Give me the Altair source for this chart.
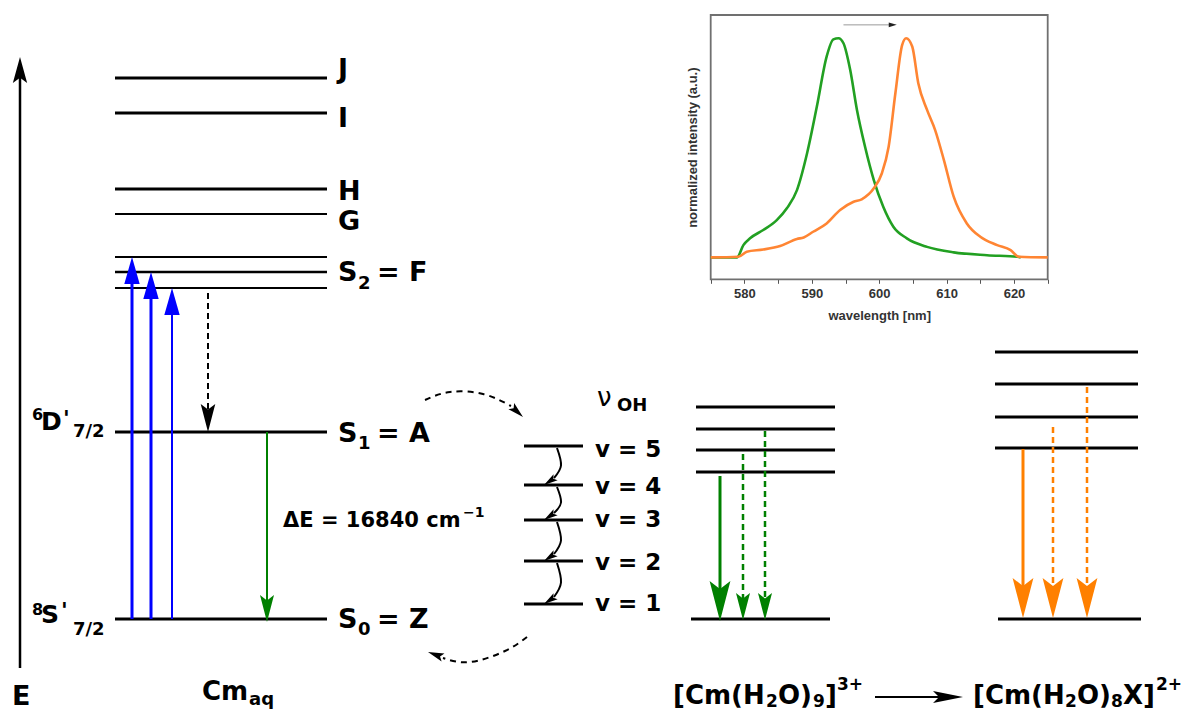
import altair as alt
import pandas as pd

# ---------------- diagram data (positions in reference-image pixels) ----------------
cm_level_names = ["J", "I", "H", "G", "F1", "F2", "F3", "A", "Z"]
cm_level_y = [78, 113, 189, 214, 257, 272, 288, 432, 619]
cm_level_w = [3, 3, 3, 2, 2, 2.5, 2, 3, 3]
cm_level_x = [115, 327]

vib_level_y = [446, 485, 520, 561, 604]          # v = 5 ... v = 1
vib_level_x = [524, 583]

aq_level_y = [407, 429, 450, 472, 619]
aq_level_x1 = [696, 696, 696, 696, 691]
aq_level_x2 = [835, 835, 835, 835, 830]

xc_level_y = [352, 384, 417, 448, 619]
xc_level_x1 = [995, 995, 995, 995, 998]
xc_level_x2 = [1138, 1138, 1138, 1138, 1141]

# straight arrows: start -> tip
arrow_x0 = [20, 132, 151, 172, 208, 267, 720, 743, 765, 1023, 1053, 1087, 875]
arrow_y0 = [668, 619, 619, 619, 293, 432, 476, 454, 431, 449, 427, 387, 697]
arrow_x1 = [20, 132, 151, 172, 208, 267, 720, 743, 765, 1023, 1053, 1087, 963]
arrow_y1 = [57, 257, 272, 288, 432, 622, 621, 620, 620, 618, 618, 618, 697]
arrow_color = ["black", "#0000ff", "#0000ff", "#0000ff", "black", "#008000",
               "#008000", "#008000", "#008000", "#ff8000", "#ff8000", "#ff8000", "black"]
arrow_width = [2.5, 3, 3, 2, 2, 2, 3, 2.5, 2.5, 3, 2.5, 2.5, 2]
arrow_dashed = [False, False, False, False, True, False, False, True, True, False, True, True, False]
arrow_head_len = [26, 27, 27, 27, 28, 27, 40, 27, 27, 40, 40, 40, 30]
arrow_head_plain = [False, True, True, True, False, False, False, False, False, False, False, False, False]

# dashed curved arrows (A -> v=5 and v=1 -> Z)
curve_id = ["top"] * 4 + ["bottom"] * 4
curve_x = [425, 450, 483, 511, 527, 505, 470, 443]
curve_y = [400, 392, 394, 406, 637, 651, 662, 658]
curve_tip_x = [523, 428]
curve_tip_y = [417, 652]
curve_tip_angle = [313, 110]

# text pieces: text, x, baseline y, size
texts = [
    ("J", 338, 78, 27), ("I", 338, 127, 27), ("H", 338, 200, 27), ("G", 338, 230, 27),
    ("S", 338, 281, 27), ("2", 358, 289, 18), ("= F", 377, 281, 27),
    ("S", 338, 442, 27), ("1", 358, 449, 18), ("= A", 377, 442, 27),
    ("S", 338, 628, 27), ("0", 358, 635, 18), ("= Z", 377, 628, 27),
    ("6", 32, 420, 16), ("D", 41, 430, 25), ("'", 63, 426, 22), ("7/2", 73, 437, 18),
    ("8", 32, 615, 16), ("S", 41, 623, 25), ("'", 61, 618, 22), ("7/2", 73, 635, 18),
    ("ΔE = 16840 cm", 283, 527, 21), ("−1", 463, 517, 14),
    ("OH", 617, 411, 18),
    ("v = 5", 595, 457, 23), ("v = 4", 595, 494, 23), ("v = 3", 595, 527, 23),
    ("v = 2", 595, 570, 23), ("v = 1", 595, 611, 23),
    ("E", 12, 705, 27),
    ("Cm", 202, 700, 26), ("aq", 249, 705, 18),
    ("[Cm(H", 673, 704, 26), ("2", 766, 707, 17), ("O)", 778, 704, 26), ("9", 813, 707, 17),
    ("]", 825, 704, 26), ("3+", 837, 690, 17),
    ("[Cm(H", 973, 704, 26), ("2", 1065, 707, 17), ("O)", 1077, 704, 26), ("8", 1111, 707, 17),
    ("X]", 1123, 704, 26), ("2+", 1156, 690, 17),
]
nu_text = [("ν", 597, 406, 26)]

# ---------------- spectrum data ----------------
spec_x_domain = [575, 625]
spec_y_domain = [-0.1, 1.106]
spec_ticks = [575, 580, 585, 590, 595, 600, 605, 610, 615, 620, 625]

green_nm = [575, 578.9, 579.85, 580.84, 582.8, 584.8, 586.3, 587.8, 589.3, 590.75, 592.2,
            593.2, 593.96, 594.7, 595.7, 596.7, 597.9, 599.2, 600.6, 602.1, 604.1, 607.1,
            611.05, 616.0, 620.5, 621]
green_int = [0, 0, 0.056, 0.087, 0.125, 0.17, 0.224, 0.307, 0.475, 0.688, 0.916,
             0.995, 1.0, 0.977, 0.855, 0.673, 0.505, 0.353, 0.231, 0.14, 0.087, 0.048,
             0.023, 0.01, 0.003, 0]

orange_nm = [575, 579.1, 580.35, 582.8, 585.3, 587.8, 588.8, 590.2, 592.2, 594.2,
             596.2, 597.4, 599.2, 600.4, 601.4, 602.4, 603.4, 604.0, 604.9, 605.8, 607.1,
             608.3, 609.6, 611.05, 613.0, 615.0, 617.5, 619.5, 620.7, 625]
orange_int = [0, 0.003, 0.026, 0.036, 0.052, 0.084, 0.091, 0.117, 0.155, 0.216,
              0.254, 0.265, 0.315, 0.384, 0.505, 0.749, 0.969, 1.0, 0.962, 0.795, 0.673,
              0.581, 0.444, 0.277, 0.155, 0.094, 0.056, 0.033, 0.003, 0]

shift_nm = [594.7, 602.6]
shift_level = 1.061

# ---------------- build tables ----------------
W, H = 1178, 705
xs = alt.Scale(domain=[0, 1194], range=[-8, 1186], nice=False, zero=False)
ys = alt.Scale(domain=[0, 713], range=[-8, 705], nice=False, zero=False)


def X(f):
    return alt.X(f"{f}:Q", scale=xs, axis=None)


def Y(f):
    return alt.Y(f"{f}:Q", scale=ys, axis=None)


rows = []
for y, w in zip(cm_level_y, cm_level_w):
    rows.append(dict(x1=cm_level_x[0], x2=cm_level_x[1], y=y, w=w))
for y in vib_level_y:
    rows.append(dict(x1=vib_level_x[0], x2=vib_level_x[1], y=y, w=3))
for y, a, b in zip(aq_level_y, aq_level_x1, aq_level_x2):
    rows.append(dict(x1=a, x2=b, y=y, w=3))
for y, a, b in zip(xc_level_y, xc_level_x1, xc_level_x2):
    rows.append(dict(x1=a, x2=b, y=y, w=3))
df_levels = pd.DataFrame(rows)

UP_NOTCH = "M0,0L0.55,2L0,1.6L-0.55,2Z"
UP_PLAIN = "M0,0L0.57,2L-0.57,2Z"
DOWN_NOTCH = "M0,0L0.52,-2L0,-1.6L-0.52,-2Z"
RIGHT_NOTCH = "M0,0L-2,0.4L-1.6,0L-2,-0.4Z"

shafts, heads = [], []
for i in range(len(arrow_x0)):
    x0, y0, x1, y1 = arrow_x0[i], arrow_y0[i], arrow_x1[i], arrow_y1[i]
    L = arrow_head_len[i]
    dx, dy = x1 - x0, y1 - y0
    n = (dx * dx + dy * dy) ** 0.5
    ex, ey = x1 - 0.7 * L * dx / n, y1 - 0.7 * L * dy / n
    shafts.append(dict(sx0=x0, sy0=y0, sx1=ex, sy1=ey, color=arrow_color[i],
                       width=arrow_width[i], dashed=arrow_dashed[i]))
    if dy < 0:
        shape = UP_PLAIN if arrow_head_plain[i] else UP_NOTCH
    elif dy > 0:
        shape = DOWN_NOTCH
    else:
        shape = RIGHT_NOTCH
    heads.append(dict(x=x1, y=y1, shape=shape, size=L * L, color=arrow_color[i], angle=0))
df_shafts = pd.DataFrame(shafts)

for tx, ty, ang in zip(curve_tip_x, curve_tip_y, curve_tip_angle):
    heads.append(dict(x=tx, y=ty, shape=DOWN_NOTCH, size=16 * 16, color="black", angle=ang))

# vibrational relaxation arcs between neighbouring v levels
arc_rows = []
for j in range(len(vib_level_y) - 1):
    yu, yl = vib_level_y[j], vib_level_y[j + 1]
    d = yl - yu
    pts = [(557, yu + 2), (561, yu + 0.5 * d), (554, yl - 7)]
    for k, (px, py) in enumerate(pts):
        arc_rows.append(dict(cid=f"a{j}", k=k, x=px, y=py))
    heads.append(dict(x=544, y=yl, shape=DOWN_NOTCH, size=14 * 14, color="black", angle=56))
df_arcs = pd.DataFrame(arc_rows)
df_heads = pd.DataFrame(heads)

df_curves = pd.DataFrame(dict(cid=curve_id, k=list(range(4)) * 2, x=curve_x, y=curve_y))
df_text = pd.DataFrame(texts, columns=["t", "x", "y", "s"])
df_nu = pd.DataFrame(nu_text, columns=["t", "x", "y", "s"])

# ---------------- diagram layers ----------------
levels = alt.Chart(df_levels).mark_rule(color="black").encode(
    x=X("x1"), x2="x2:Q", y=Y("y"), strokeWidth=alt.StrokeWidth("w:Q", scale=None))

shaft_enc = dict(x=X("sx0"), x2="sx1:Q", y=Y("sy0"), y2="sy1:Q",
                 color=alt.Color("color:N", scale=None),
                 strokeWidth=alt.StrokeWidth("width:Q", scale=None))
shaft_solid = alt.Chart(df_shafts[~df_shafts.dashed]).mark_rule().encode(**shaft_enc)
shaft_dash = alt.Chart(df_shafts[df_shafts.dashed]).mark_rule(strokeDash=[6, 4]).encode(**shaft_enc)

curve_dash = alt.Chart(df_curves).mark_line(
    interpolate="natural", color="black", strokeWidth=2, strokeDash=[6, 5]).encode(
    x=X("x"), y=Y("y"), detail="cid:N", order="k:Q")
arcs = alt.Chart(df_arcs).mark_line(
    interpolate="natural", color="black", strokeWidth=2).encode(
    x=X("x"), y=Y("y"), detail="cid:N", order="k:Q")

head_layer = alt.Chart(df_heads).mark_point(filled=True, opacity=1, strokeWidth=0).encode(
    x=X("x"), y=Y("y"),
    shape=alt.Shape("shape:N", scale=None),
    size=alt.Size("size:Q", scale=None),
    color=alt.Color("color:N", scale=None),
    angle=alt.Angle("angle:Q", scale=None))

text_layer = alt.Chart(df_text).mark_text(
    align="left", baseline="alphabetic", font="DejaVu Sans", fontWeight="bold", color="black").encode(
    x=X("x"), y=Y("y"), text="t:N", size=alt.Size("s:Q", scale=None))
nu_layer = alt.Chart(df_nu).mark_text(
    align="left", baseline="alphabetic", font="DejaVu Sans", color="black").encode(
    x=X("x"), y=Y("y"), text="t:N", size=alt.Size("s:Q", scale=None))

diagram = alt.layer(levels, shaft_solid, shaft_dash, curve_dash, arcs, head_layer, text_layer, nu_layer)

# ---------------- spectrum layers ----------------
sx = alt.Scale(domain=spec_x_domain, range=[702.7, 1039.7], nice=False, zero=False)
sy = alt.Scale(domain=spec_y_domain, range=[271.3, 7], nice=False, zero=False)
x_axis = alt.Axis(orient="bottom", offset=-(H - 271.3), values=spec_ticks,
                  labelExpr="(datum.value % 10 == 0 && datum.value > 575 && datum.value < 625) ? datum.label : ''",
                  domain=False, ticks=True, tickSize=4, tickColor="#555", tickWidth=1, grid=False,
                  labelFont="Liberation Sans", labelFontWeight="bold", labelFontSize=13,
                  labelColor="#333", labelPadding=4, title="wavelength [nm]",
                  titleFont="Liberation Sans", titleFontSize=13, titleFontWeight="bold",
                  titleColor="#333", titlePadding=9)
y_axis = alt.Axis(orient="left", offset=-702.7, domain=False, ticks=False, labels=False, grid=False,
                  title="normalized intensity (a.u.)", titleFont="Liberation Sans",
                  titleFontSize=13, titleFontWeight="bold", titleColor="#333", titlePadding=11)

df_frame = pd.DataFrame(dict(a=[spec_x_domain[0]], b=[spec_x_domain[1]],
                             c=[spec_y_domain[0]], d=[spec_y_domain[1]]))
frame = alt.Chart(df_frame).mark_rect(fillOpacity=0, stroke="#707070", strokeWidth=1.8).encode(
    x=alt.X("a:Q", scale=sx, axis=x_axis), x2="b:Q",
    y=alt.Y("c:Q", scale=sy, axis=y_axis), y2="d:Q")

df_green = pd.DataFrame(dict(nm=green_nm, v=green_int))
df_orange = pd.DataFrame(dict(nm=orange_nm, v=orange_int))
green_line = alt.Chart(df_green).mark_line(color="#22a022", strokeWidth=2.6, interpolate="monotone").encode(
    x=alt.X("nm:Q", scale=sx, axis=x_axis), y=alt.Y("v:Q", scale=sy, axis=y_axis))
orange_line = alt.Chart(df_orange).mark_line(color="#ff8533", strokeWidth=2.6, interpolate="monotone").encode(
    x=alt.X("nm:Q", scale=sx, axis=x_axis), y=alt.Y("v:Q", scale=sy, axis=y_axis))

df_shift = pd.DataFrame(dict(a=[shift_nm[0]], b=[shift_nm[1] - 0.6], v=[shift_level]))
shift_rule = alt.Chart(df_shift).mark_rule(color="#999999", strokeWidth=1).encode(
    x=alt.X("a:Q", scale=sx, axis=x_axis), x2="b:Q", y=alt.Y("v:Q", scale=sy, axis=y_axis))
df_shift_head = pd.DataFrame(dict(nm=[shift_nm[1]], v=[shift_level]))
shift_head = alt.Chart(df_shift_head).mark_point(
    filled=True, opacity=1, strokeWidth=0, color="#222222",
    shape="M0,0L-2,0.6L-2,-0.6Z", size=64).encode(
    x=alt.X("nm:Q", scale=sx, axis=x_axis), y=alt.Y("v:Q", scale=sy, axis=y_axis))

spectrum = alt.layer(frame, green_line, orange_line, shift_rule, shift_head)

chart = alt.layer(diagram, spectrum).resolve_scale(
    x="independent", y="independent").properties(
    width=W, height=H, autosize=alt.AutoSizeParams(type="none"), padding=0,
    background="white").configure_view(stroke=None)

chart.save("out.html", embed_options={"renderer": "svg", "actions": False})
